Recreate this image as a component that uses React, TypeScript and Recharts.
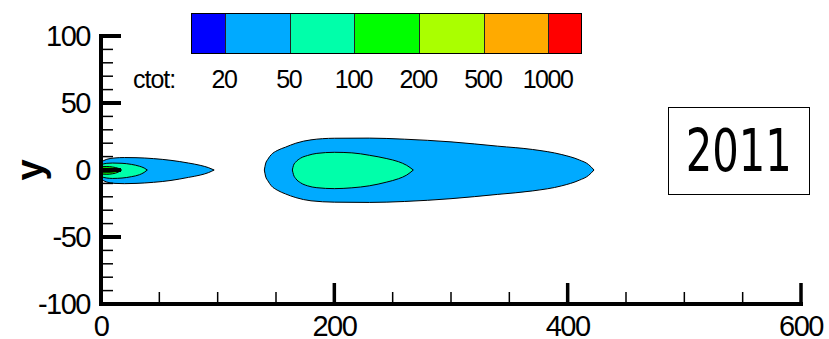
import { ComposedChart, Area, XAxis, YAxis } from "recharts";

// plume outlines: x positions with upper / lower edge of each contour band
const farOuterX = [140, 141, 143, 146, 151, 158, 167, 180, 200, 230, 260, 300, 340, 370, 395, 410, 418, 422.6];
const farOuterTop = [0, 4.5, 8, 11.5, 14.5, 17, 20, 22.5, 23.7, 23.8, 23, 21, 17.8, 15.3, 11.5, 7.5, 4, 0];
const farOuterBot = [0, -4.5, -8, -11.8, -15, -17.8, -20.6, -23, -24, -24.2, -23.5, -21.4, -18.2, -15.6, -11.8, -7.6, -4, 0];

const farInnerX = [164, 165, 167, 171, 177, 185, 200, 215, 230, 245, 255, 262, 267.7];
const farInnerTop = [0, 3.5, 6, 8.8, 10.8, 12.4, 13.2, 12.8, 11, 8.5, 6.2, 3.5, 0];
const farInnerBot = [0, -3.5, -6.5, -9.5, -11.8, -13.2, -13.9, -13.3, -11.8, -9, -6.5, -3.8, 0];

const nearOuterX = [0, 5, 12, 20, 30, 45, 60, 75, 85, 92, 97];
const nearOuterTop = [6, 8, 9, 9.3, 9.2, 8.5, 7.2, 5.2, 3.5, 1.8, 0];
const nearOuterBot = [-7, -9, -10, -10.2, -10, -9.2, -7.8, -5.5, -3.8, -2, 0];

const nearInnerX = [0, 5, 10, 18, 26, 33, 37, 39.7];
const nearInnerTop = [4, 5, 5.2, 5, 4.2, 2.8, 1.5, 0];
const nearInnerBot = [-5, -6, -6.3, -6, -5, -3.5, -1.8, 0];

const nearGreenX = [0, 5, 10, 15, 17.7];
const nearGreenTop = [2.5, 2.6, 2.2, 1.2, 0];
const nearGreenBot = [-3, -3.2, -2.8, -1.5, 0];

const nearCoreX = [0, 8, 13, 16];
const nearCoreTop = [1.2, 1.2, 0.8, 0];
const nearCoreBot = [-1.6, -1.6, -1, 0];

// legend levels
const levelLabels = ["20", "50", "100", "200", "500", "1000"];
const levelColors = ["#0000ff", "#00aaff", "#00ffaa", "#00ff00", "#aaff00", "#ffaa00", "#ff0000"];

const xTicks = [0, 50, 100, 150, 200, 250, 300, 350, 400, 450, 500, 550, 600];
const yTicks = [-100, -90, -80, -70, -60, -50, -40, -30, -20, -10, 0, 10, 20, 30, 40, 50, 60, 70, 80, 90, 100];
const yearLabel = "2011";

const W = 829;
const H = 339;
const PLOT_LEFT = 101;
const PLOT_TOP = 36;
const X_AXIS_H = 35;
const PLOT_BOTTOM = H - X_AXIS_H;
const FONT = "'Liberation Sans', Arial, sans-serif";

const band = (xs: number[], top: number[], bot: number[]) =>
  xs.map((x, i) => ({ x, band: [bot[i], top[i]] }));

const plumes = [
  { key: "farOuter", data: band(farOuterX, farOuterTop, farOuterBot), fill: levelColors[1] },
  { key: "farInner", data: band(farInnerX, farInnerTop, farInnerBot), fill: levelColors[2] },
  { key: "nearOuter", data: band(nearOuterX, nearOuterTop, nearOuterBot), fill: levelColors[1] },
  { key: "nearInner", data: band(nearInnerX, nearInnerTop, nearInnerBot), fill: levelColors[2] },
  { key: "nearGreen", data: band(nearGreenX, nearGreenTop, nearGreenBot), fill: levelColors[3] },
  { key: "nearCore", data: band(nearCoreX, nearCoreTop, nearCoreBot), fill: "#000" },
];

function YTick(props: any) {
  const { y, payload } = props;
  const major = payload.value % 50 === 0;
  return (
    <g>
      <line
        x1={PLOT_LEFT}
        x2={PLOT_LEFT + (major ? 20 : 12)}
        y1={y}
        y2={y}
        stroke="#000"
        strokeWidth={major ? 4 : 1.5}
      />
      {major && (
        <text
          x={PLOT_LEFT - 11}
          y={y}
          textAnchor="end"
          dominantBaseline="central"
          fontFamily={FONT}
          fontSize={29}
          letterSpacing={-1.5}
          fill="#000"
        >
          {payload.value}
        </text>
      )}
    </g>
  );
}

function XTick(props: any) {
  const { x, payload } = props;
  const major = payload.value % 200 === 0;
  return (
    <g>
      <line
        x1={x}
        x2={x}
        y1={PLOT_BOTTOM}
        y2={PLOT_BOTTOM - (major ? 21 : 12)}
        stroke="#000"
        strokeWidth={major ? 3.5 : 1.5}
      />
      {major && (
        <text
          x={x}
          y={PLOT_BOTTOM + 32}
          textAnchor="middle"
          fontFamily={FONT}
          fontSize={29}
          letterSpacing={-1.5}
          fill="#000"
        >
          {payload.value}
        </text>
      )}
    </g>
  );
}

function ColorBar() {
  const left = 191;
  const top = 13;
  const endW = 33;
  const midW = 64.7;
  const widths = levelColors.map((_, i) => (i === 0 || i === levelColors.length - 1 ? endW : midW));
  let acc = left;
  const edges = widths.map((w) => (acc += w));
  return (
    <>
      <div
        style={{
          position: "absolute",
          left,
          top,
          height: 41,
          display: "flex",
          border: "1.5px solid #000",
          boxSizing: "border-box",
        }}
      >
        {levelColors.map((c, i) => (
          <div
            key={c}
            style={{
              width: widths[i],
              height: "100%",
              background: c,
              borderLeft: i === 0 ? "none" : "1px solid #222",
              boxSizing: "border-box",
            }}
          />
        ))}
      </div>
      <div
        style={{
          position: "absolute",
          left: 133,
          top: 65,
          fontFamily: FONT,
          fontSize: 25,
          letterSpacing: -1,
          lineHeight: "28px",
        }}
      >
        ctot:
      </div>
      {levelLabels.map((t, i) => (
        <div
          key={t}
          style={{
            position: "absolute",
            left: edges[i] - 40,
            width: 80,
            top: 65,
            textAlign: "center",
            fontFamily: FONT,
            fontSize: 25,
            letterSpacing: -1.5,
            lineHeight: "28px",
          }}
        >
          {t}
        </div>
      ))}
    </>
  );
}

export default function App() {
  return (
    <div style={{ position: "absolute", left: 0, top: 0, width: W, height: H, background: "#fff" }}>
      <ComposedChart width={W} height={H} margin={{ top: PLOT_TOP, right: 28, left: 0, bottom: 0 }}>
        <XAxis
          type="number"
          dataKey="x"
          domain={[0, 600]}
          ticks={xTicks}
          interval={0}
          height={X_AXIS_H}
          axisLine={{ stroke: "#000", strokeWidth: 4, strokeLinecap: "square" }}
          tickLine={false}
          tick={(p: any) => <XTick {...p} />}
          allowDataOverflow
        />
        <YAxis
          type="number"
          domain={[-100, 100]}
          ticks={yTicks}
          interval={0}
          width={PLOT_LEFT}
          axisLine={{ stroke: "#000", strokeWidth: 4, strokeLinecap: "square" }}
          tickLine={false}
          tick={(p: any) => <YTick {...p} />}
          allowDataOverflow
        />
        {plumes.map((p) => (
          <Area
            key={p.key}
            data={p.data}
            dataKey="band"
            type="monotone"
            fill={p.fill}
            fillOpacity={1}
            stroke="#000"
            strokeWidth={1}
            dot={false}
            activeDot={false}
            isAnimationActive={false}
          />
        ))}
      </ComposedChart>
      <div
        style={{
          position: "absolute",
          left: 30,
          top: 170,
          transform: "translate(-50%, -50%) rotate(-90deg)",
          fontFamily: FONT,
          fontWeight: "bold",
          fontSize: 38,
          lineHeight: "38px",
        }}
      >
        y
      </div>
      <ColorBar />
      <div
        style={{
          position: "absolute",
          left: 668,
          top: 107,
          width: 142,
          height: 88,
          border: "1.5px solid #000",
          boxSizing: "border-box",
          display: "flex",
          alignItems: "center",
          justifyContent: "center",
          background: "#fff",
        }}
      >
        <span
          style={{
            fontFamily: "'DejaVu Sans', sans-serif",
            fontSize: 58,
            display: "inline-block",
            transform: "scaleX(0.72)",
            lineHeight: "58px",
          }}
        >
          {yearLabel}
        </span>
      </div>
    </div>
  );
}
